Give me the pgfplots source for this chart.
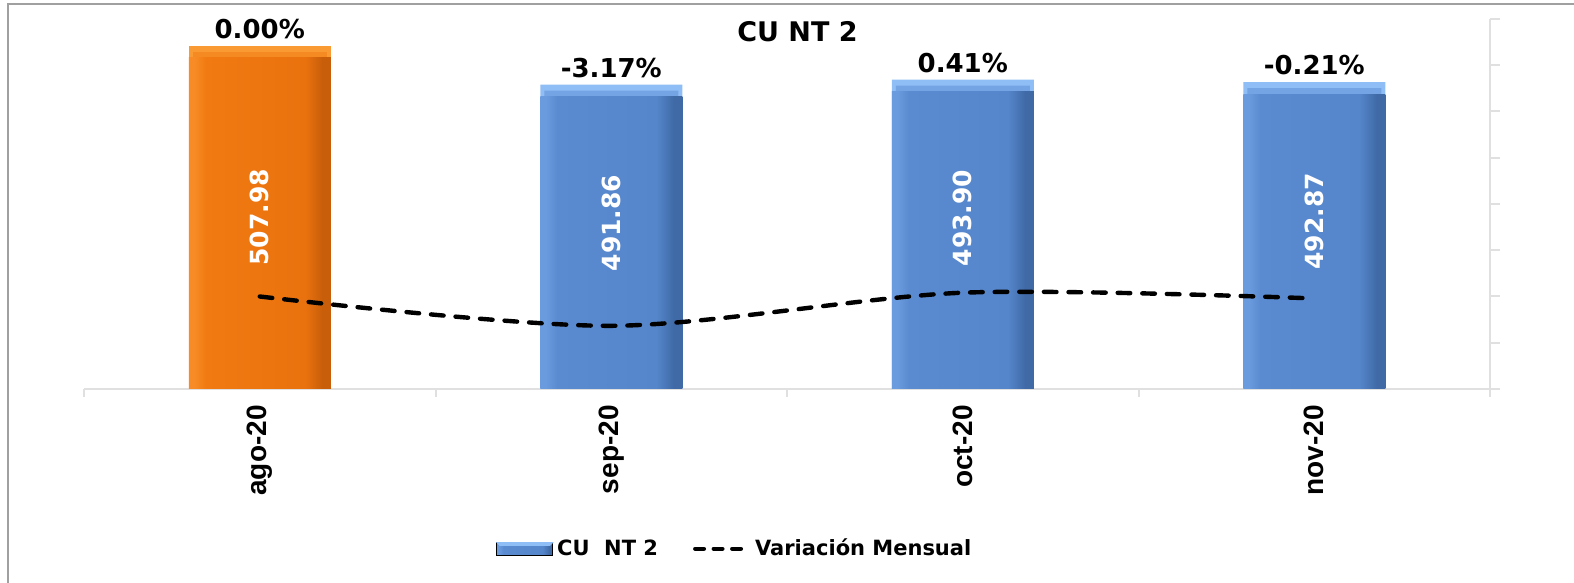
\documentclass[border=0pt]{standalone}
\usepackage{pgfplots}
\pgfplotsset{compat=1.18}
\usepackage{fontspec}
\setmainfont{DejaVu Sans}
\newfontfamily\arialfont{Liberation Sans}
\definecolor{orM}{HTML}{F27A12}
\definecolor{orM2}{HTML}{EA720E}
\definecolor{orL}{HTML}{F88B25}
\definecolor{orD}{HTML}{C95E0A}
\definecolor{orT}{HTML}{F99A33}
\definecolor{orT2}{HTML}{F68A22}
\definecolor{blM}{HTML}{5A8BD0}
\definecolor{blM2}{HTML}{5585CA}
\definecolor{blL}{HTML}{6A9BDE}
\definecolor{blD}{HTML}{3F6AA6}
\definecolor{blT}{HTML}{8FBDF5}
\definecolor{blT2}{HTML}{74A4E4}
\definecolor{framegray}{HTML}{A0A0A0}
\definecolor{axgray}{HTML}{E0E0E0}
\pgfdeclarehorizontalshading{blshade}{100bp}{color(0bp)=(blL); color(25bp)=(blL); color(27bp)=(blL); color(31bp)=(blM); color(66bp)=(blM2); color(72bp)=(blD); color(75bp)=(blD); color(100bp)=(blD)}
\pgfdeclarehorizontalshading{orshade}{100bp}{color(0bp)=(orL); color(25bp)=(orL); color(27bp)=(orL); color(31bp)=(orM); color(66bp)=(orM2); color(72bp)=(orD); color(75bp)=(orD); color(100bp)=(orD)}
\begin{document}
\begin{tikzpicture}
\draw[framegray, line width=1pt] (4pt,0pt) -- (4pt,289.5pt) -- (787pt,289.5pt);
\begin{axis}[
  at={(42pt,97pt)}, anchor=south west, scale only axis,
  width=703pt, height=185pt,
  xmin=-0.5, xmax=3.5, ymin=366, ymax=519,
  axis x line*=bottom, axis y line=none,
  x axis line style={-, draw=axgray, line width=1pt},
  xtick={0,1,2,3}, xticklabels={ago-20,sep-20,oct-20,nov-20},
  major tick length=0pt,
  xticklabel style={rotate=90, anchor=east, inner xsep=8pt, inner ysep=0pt, font=\arialfont\bfseries\fontsize{14}{14}\selectfont},
  extra x ticks={-0.5,0.5,1.5,2.5,3.5}, extra x tick labels={},
  extra x tick style={major tick length=4pt, tick align=outside, tick style={draw=axgray, line width=1pt}},
  ybar, bar width=71pt, bar shift=0pt,
  toplab/.style={nodes near coords, point meta=explicit symbolic,
    every node near coord/.append style={font=\bfseries\fontsize{13}{13}\selectfont, black}},
]
% top bevel layers (light) with percentage labels
\addplot[draw=none, bar shift=0pt, fill=orT, toplab] coordinates {(0,507.98) [0.00\%]};
\addplot[draw=none, bar shift=0pt, fill=blT, toplab] coordinates {(1,491.86) [-3.17\%] (2,493.90) [0.41\%] (3,492.87) [-0.21\%]};
\addplot[draw=none, bar shift=0pt, fill=orT2, bar width=67pt, yshift=-3pt] coordinates {(0,507.98)};
\addplot[draw=none, bar shift=0pt, fill=blT2, bar width=67pt, yshift=-3pt] coordinates {(1,491.86) (2,493.90) (3,492.87)};
% bar bodies
\addplot[draw=none, bar shift=0pt, shading=orshade, yshift=-6pt] coordinates {(0,507.98)};
\addplot[draw=none, bar shift=0pt, shading=blshade, yshift=-6pt] coordinates {(1,491.86)};
\addplot[draw=none, bar shift=0pt, shading=blshade, yshift=-6pt] coordinates {(2,493.90)};
\addplot[draw=none, bar shift=0pt, shading=blshade, yshift=-6pt] coordinates {(3,492.87)};
% values inside the bars
\addplot[sharp plot, draw=none, fill=none, mark=none, nodes near coords, point meta=explicit symbolic,
  every node near coord/.style={rotate=90, anchor=center, text=white, font=\bfseries\fontsize{12.5}{12.5}\selectfont}]
  coordinates {(0,437.0) [507.98] (1,434.6) [491.86] (2,436.7) [493.90] (3,435.4) [492.87]};
\end{axis}
\begin{axis}[
  at={(42pt,97pt)}, anchor=south west, scale only axis,
  width=703pt, height=185pt,
  xmin=-0.5, xmax=3.5, ymin=-10, ymax=30,
  axis x line=none, axis y line*=right,
  y axis line style={-, draw=axgray, line width=1pt},
  ytick={-10,-5,0,5,10,15,20,25,30}, yticklabels={},
  major tick length=5pt, tick align=outside, tick style={draw=axgray, line width=1pt},
  clip=false,
  legend columns=2,
  legend style={at={(0.293,-0.432)}, anchor=west, draw=none, fill=none, inner sep=0pt,
    font=\bfseries\fontsize{10.5}{10.5}\selectfont,
    /tikz/every even column/.append style={column sep=15.5pt}},
]
\addlegendimage{legend image code/.code={\shade[shading=blshade] (0pt,-3.2pt) rectangle (28pt,3.2pt); \fill[blT] (0pt,3.2pt) -- (28pt,3.2pt) -- (26.5pt,1.7pt) -- (1.5pt,1.7pt) -- cycle;}}
\addlegendentry{CU\ \ NT 2}
\addplot[black, line width=2.2pt, dash pattern=on 6.3pt off 6pt, line cap=round, smooth, mark=none,
  legend image code/.code={\draw[black, line width=2.2pt, dash pattern=on 4.3pt off 4.95pt, line cap=round] (1.1pt,0pt) -- (23.9pt,0pt); \path[draw=none] (0pt,0pt) -- (29pt,0pt);}]
  coordinates {(0,0) (1,-3.17) (2,0.41) (3,-0.21)};
\addlegendentry{Variación Mensual}
\end{axis}
\node[font=\bfseries\fontsize{13.5}{13.5}\selectfont] at (398.75pt,275.5pt) {CU NT 2};
\pgfresetboundingbox
\path[use as bounding box] (0,0) rectangle (787pt,291.5pt);
\end{tikzpicture}
\end{document}
